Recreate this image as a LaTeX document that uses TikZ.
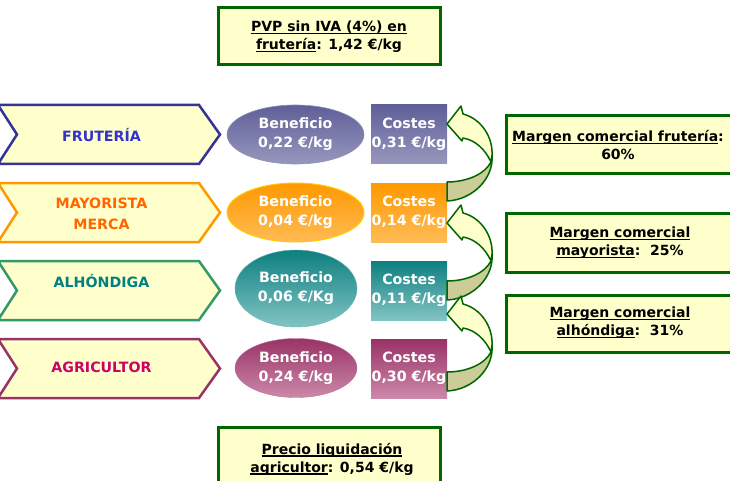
\documentclass[tikz,border=0pt]{standalone}
\usepackage{fontspec}
\setmainfont{DejaVu Sans}
\usetikzlibrary{shapes.geometric}
\definecolor{cbA}{HTML}{333399}\definecolor{ctA}{HTML}{3333CC}
\definecolor{cbB}{HTML}{FF9900}\definecolor{ctB}{HTML}{FF6600}
\definecolor{cbC}{HTML}{339966}\definecolor{ctC}{HTML}{008080}
\definecolor{cbD}{HTML}{993366}\definecolor{ctD}{HTML}{CC0066}
\definecolor{lyel}{HTML}{FFFFCC}
\definecolor{dgreen}{HTML}{006600}
\definecolor{olive}{HTML}{CCCC99}
\definecolor{gAt}{HTML}{5F5F99}\definecolor{gAb}{HTML}{9797BD}
\definecolor{gBt}{HTML}{FF9900}\definecolor{gBb}{HTML}{FFBB55}
\definecolor{gCt}{HTML}{0E7F7F}\definecolor{gCb}{HTML}{82C4C4}
\definecolor{gDt}{HTML}{993366}\definecolor{gDb}{HTML}{CC88AA}
\newsavebox\ulbox
\newcommand\ulx[1]{\sbox\ulbox{#1}\rlap{\rule[-2.6pt]{\wd\ulbox}{1.4pt}}\usebox\ulbox}
\tikzset{
  chev/.style={line width=2.5pt, fill=lyel, line join=miter},
  chevtxt/.style={font=\bfseries\fontsize{14.2}{21}\selectfont, align=center, inner sep=0pt},
  benef/.style={ellipse, inner sep=0pt, minimum width=137pt, minimum height=59pt, text=white,
     font=\bfseries\fontsize{14.2}{19}\selectfont, align=center},
  costbox/.style={rectangle, inner sep=0pt, minimum width=76pt, minimum height=59pt, text=white,
     font=\bfseries\fontsize{14.2}{19}\selectfont, align=center},
  infobox/.style={draw=dgreen, line width=3pt, fill=lyel},
  infotxt/.style={font=\bfseries\fontsize{14}{18}\selectfont, align=center, inner sep=0pt},
  arr/.style={draw=dgreen, line width=1.5pt, line join=round}
}
\newcommand\curvarrow[1]{%
  \begin{scope}[shift={(447,#1)}]
    \filldraw[arr, fill=olive] (45,31) .. controls (47,55) and (25,76) .. (0,77) -- (0,58)
        .. controls (20,58) and (38,50) .. (44,38) -- cycle;
    \filldraw[arr, fill=lyel] (16,-10) .. controls (35,-5) and (46,14) .. (45,31)
        -- (44,38) .. controls (38,25) and (28,16) .. (16,14) -- (15,17) -- (0,0) -- (14,-18) -- cycle;
  \end{scope}}
\begin{document}
\begin{tikzpicture}[x=1pt,y=-1pt]
\useasboundingbox (0,0) rectangle (730,481);
\fill[white] (0,0) rectangle (730,481);
\clip (0,0) rectangle (730,481);

% chevrons
\draw[chev, draw=cbA] (-2,105) -- (199,105) -- (220,134.5) -- (199,164) -- (-2,164) -- (17,134.5) -- cycle;
\draw[chev, draw=cbB] (-2,183) -- (199,183) -- (220,212.5) -- (199,242) -- (-2,242) -- (17,212.5) -- cycle;
\draw[chev, draw=cbC] (-2,261) -- (199,261) -- (220,290.5) -- (199,320) -- (-2,320) -- (17,290.5) -- cycle;
\draw[chev, draw=cbD] (-2,339) -- (199,339) -- (220,368.5) -- (199,398) -- (-2,398) -- (17,368.5) -- cycle;
\node[chevtxt, text=ctA] (fru) at (101.5,135) {FRUTERÍA};
\node[chevtxt, text=ctB] (may) at (101.5,214) {MAYORISTA\\MERCA};
\node[chevtxt, text=ctC] (alh) at (101.5,281) {ALHÓNDIGA};
\node[chevtxt, text=ctD] (agr) at (101.5,367.5) {AGRICULTOR};

% benefit ellipses
\node[benef, top color=gAt, bottom color=gAb, draw=gAt!70, line width=0.6pt] (b1) at (295.5,134.5) {Beneficio\\0,22 €/kg};
\node[benef, top color=gBt, bottom color=gBb, draw={rgb,255:red,255;green,204;blue,0}, line width=1pt] (b2) at (295.5,212.5) {Beneficio\\0,04 €/kg};
\node[benef, top color=gCt, bottom color=gCb, minimum width=122pt, minimum height=77pt, draw=gCt!60, line width=0.4pt] (b3) at (296,288.5) {Beneficio\\0,06 €/Kg};
\node[benef, top color=gDt, bottom color=gDb, minimum width=122pt, draw=gDt!70, line width=0.4pt] (b4) at (296,368) {Beneficio\\0,24 €/kg};

% cost boxes
\node[costbox, top color=gAt, bottom color=gAb] (c1) at (409,134.5) {Costes\\0,31 €/kg};
\node[costbox, top color=gBt, bottom color=gBb] (c2) at (409,212.5) {Costes\\0,14 €/kg};
\node[costbox, top color=gCt, bottom color=gCb] (c3) at (409,290.5) {Costes\\0,11 €/kg};
\node[costbox, top color=gDt, bottom color=gDb] (c4) at (409,368.5) {Costes\\0,30 €/kg};

% curved arrows
\curvarrow{124}
\curvarrow{223}
\curvarrow{314}

% info boxes
\draw[infobox] (218,8) rectangle (440,65);
\node[infotxt] (pvp) at (329,37) {\ulx{PVP sin IVA (4\%) en}\\\ulx{frutería}: 1,42 €/kg};
\draw[infobox] (218,427) rectangle (440,490);
\node[infotxt] (liq) at (332,459) {\ulx{Precio liquidación}\\\ulx{agricultor}: 0,54 €/kg};

\draw[infobox] (506,116) rectangle (734,174);
\node[infotxt] (m1) at (618,145) {\ulx{Margen comercial frutería}:\\60\%};
\draw[infobox] (506,213) rectangle (734,272);
\node[infotxt] (m2) at (620,242.5) {\ulx{Margen comercial}\\\ulx{mayorista}:\ \ 25\%};
\draw[infobox] (506,295) rectangle (734,352);
\node[infotxt] (m3) at (620,323) {\ulx{Margen comercial}\\\ulx{alhóndiga}:\ \ 31\%};
\end{tikzpicture}
\end{document}
